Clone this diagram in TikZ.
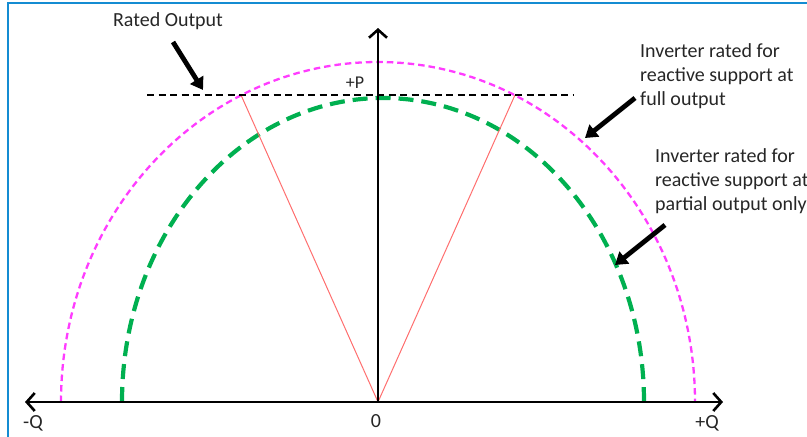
\documentclass[tikz,border=0pt]{standalone}
\usepackage{fontspec}
\setmainfont{Carlito}
\usepackage{xcolor}
\usetikzlibrary{arrows.meta}

\definecolor{framecol}{RGB}{20,140,210}
\definecolor{fullcol}{RGB}{255,60,255}
\definecolor{partcol}{RGB}{0,176,80}
\definecolor{spokecol}{RGB}{255,110,110}

\begin{document}
\begin{tikzpicture}[
    x=1pt, y=-1pt,
    >={Straight Barb[length=8pt,width=18pt]},
    lbl/.style={font=\fontsize{20}{24.4}\selectfont, text=black!85, inner sep=0pt},
    axis/.style={line width=2.6pt},
    pointer/.style={-{Triangle[length=12pt,width=15pt]}, line width=4.8pt},
    fullcap/.style={fullcol, line width=2.3pt, dash pattern=on 6.5pt off 4pt},
    partcap/.style={partcol, line width=4.2pt, dash pattern=on 15pt off 8pt},
    rated/.style={black, line width=2.8pt, dash pattern=on 7pt off 4.5pt},
    spoke/.style={spokecol, line width=1pt}
]
\useasboundingbox (0,0) rectangle (807,437);
\draw[framecol, line width=2.5pt] (8,437) -- (8,3) -- (807,3);

\coordinate (O) at (378,402);
\coordinate (qneg) at (25,402);
\coordinate (qpos) at (723,402);
\coordinate (ptop) at (378,28);
\coordinate (lt) at (241,95);
\coordinate (rt) at (515,95);
\coordinate (rl) at (147,95);
\coordinate (rr) at (573,95);

% capability curves
\draw[fullcap] (61,402) arc[start angle=180, end angle=360, x radius=317, y radius=340];
\draw[partcap] (122,402) arc[start angle=180, end angle=360, x radius=261, y radius=304];

\draw[spoke] (O) -- (lt);
\draw[spoke] (O) -- (rt);

% axes
\draw[axis, <->] (qneg) -- (qpos);
\draw[axis, ->] (O) -- (ptop);
\draw[rated] (rl) -- (rr);

\node[lbl, anchor=base] (ratedtxt) at (168,26) {Rated Output};
\node[lbl, anchor=base, font=\fontsize{18}{22}\selectfont] (plabel) at (355,88) {+P};
\node[lbl, anchor=base] (qnlabel) at (33,428) {-Q};
\node[lbl, anchor=base] (zlabel) at (376,427) {0};
\node[lbl, anchor=base] (qplabel) at (707,428) {+Q};
\node[lbl, anchor=north west, align=left] (fulltxt) at (640,43) {Inverter rated for\\reactive support at\\full output};
\node[lbl, anchor=north west, align=left] (parttxt) at (655,148) {Inverter rated for\\reactive support at\\partial output only};

% pointers
\coordinate (ra) at (173,42);
\coordinate (rb) at (203,90);
\coordinate (fa) at (635,98);
\coordinate (fb) at (585,138);
\coordinate (pa) at (665,225);
\coordinate (pb) at (615,265);
\draw[pointer] (ra) -- (rb);
\draw[pointer] (fa) -- (fb);
\draw[pointer] (pa) -- (pb);
\end{tikzpicture}
\end{document}
